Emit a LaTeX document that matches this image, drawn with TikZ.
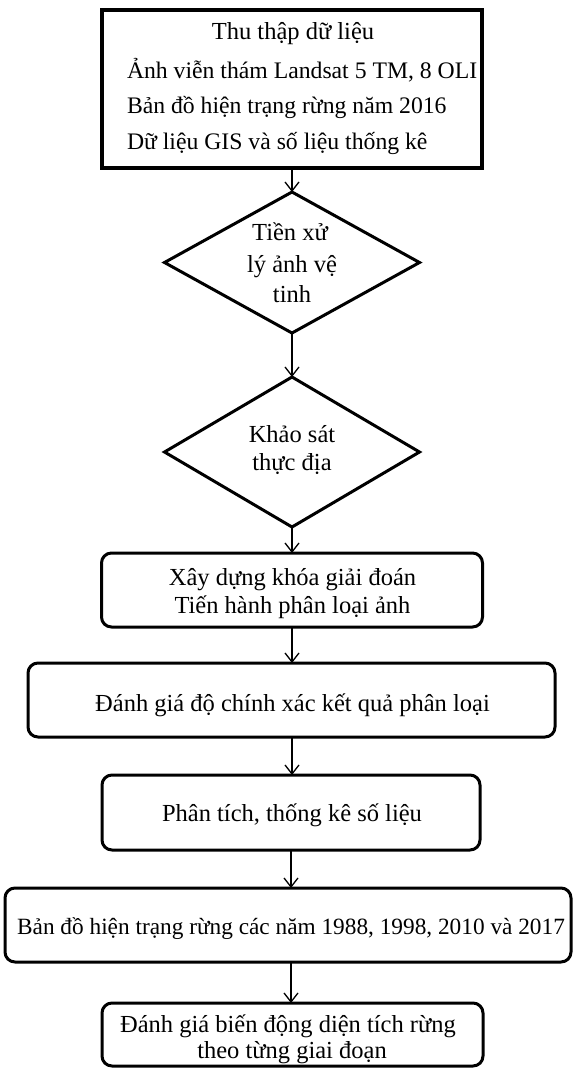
\documentclass[tikz,border=0pt]{standalone}
\usepackage{fontspec}
\setmainfont{Liberation Serif}
\usetikzlibrary{shapes.geometric,arrows.meta}
\begin{document}
\begin{tikzpicture}[x=1pt,y=-1pt,
  every node/.style={inner sep=0pt,outer sep=0pt},
  txt/.style={font=\fontsize{24.5}{29}\selectfont, anchor=base},
  txtl/.style={font=\fontsize{23.7}{29}\selectfont, anchor=base west},
  sqbox/.style={draw, line width=3.5pt, rectangle},
  rbox/.style={draw, line width=3pt, rectangle, rounded corners=10pt},
  dia/.style={draw, line width=3pt, diamond},
  conn/.style={line width=1.3pt, -{Straight Barb[length=9pt,width=14pt,line width=1.3pt]}}
]
\useasboundingbox (0,0) rectangle (573,1069);
% boxes
\node[sqbox, minimum width=380pt, minimum height=158pt] (b1) at (292,89) {};
\node[dia, minimum width=255pt, minimum height=141pt] (d1) at (292,262.5) {};
\node[dia, minimum width=255pt, minimum height=150pt] (d2) at (292,452) {};
\node[rbox, minimum width=381pt, minimum height=74pt] (b3) at (292,590) {};
\node[rbox, minimum width=527pt, minimum height=74pt] (b4) at (291.5,700) {};
\node[rbox, minimum width=378pt, minimum height=75pt] (b5) at (291,812.5) {};
\node[rbox, minimum width=566pt, minimum height=74pt] (b6) at (288,925) {};
\node[rbox, minimum width=381pt, minimum height=63pt] (b7) at (292.5,1034.5) {};
% texts
\node[txt] (t1a) at (293,39) {Thu thập dữ liệu};
\node[txtl] (t1b) at (127,78) {Ảnh viễn thám Landsat 5 TM, 8 OLI};
\node[txtl] (t1c) at (127,113.5) {Bản đồ hiện trạng rừng năm 2016};
\node[txtl] (t1d) at (127,149) {Dữ liệu GIS và số liệu thống kê};
\node[txt] (t2a) at (290,240) {Tiền xử};
\node[txt] (t2b) at (292,272) {lý ảnh vệ};
\node[txt] (t2c) at (292,302) {tinh};
\node[txt] (t3a) at (292,442) {Khảo sát};
\node[txt] (t3b) at (292,470) {thực địa};
\node[txt] (t4a) at (292.5,585) {Xây dựng khóa giải đoán};
\node[txt] (t4b) at (292.5,613) {Tiến hành phân loại ảnh};
\node[txt] (t5) at (292.5,711) {Đánh giá độ chính xác kết quả phân loại};
\node[txt] (t6) at (292,821) {Phân tích, thống kê số liệu};
\node[txt, font=\fontsize{23.3}{28}\selectfont] (t7) at (291,934) {Bản đồ hiện trạng rừng các năm 1988, 1998, 2010 và 2017};
\node[txt] (t8a) at (288,1032) {Đánh giá biến động diện tích rừng};
\node[txt] (t8b) at (292,1058) {theo từng giai đoạn};
% connectors
\draw[conn] (b1.south) -- (d1.north);
\draw[conn] (d1.south) -- (d2.north);
\draw[conn] (d2.south) -- (b3.north);
\draw[conn] (b3.south) -- (b3.south |- b4.north);
\draw[conn] (b3.south |- b4.south) -- (b3.south |- b5.north);
\draw[conn] (b5.south) -- (b5.south |- b6.north);
\draw[conn] (b5.south |- b6.south) -- (b5.south |- b7.north);
\end{tikzpicture}
\end{document}
